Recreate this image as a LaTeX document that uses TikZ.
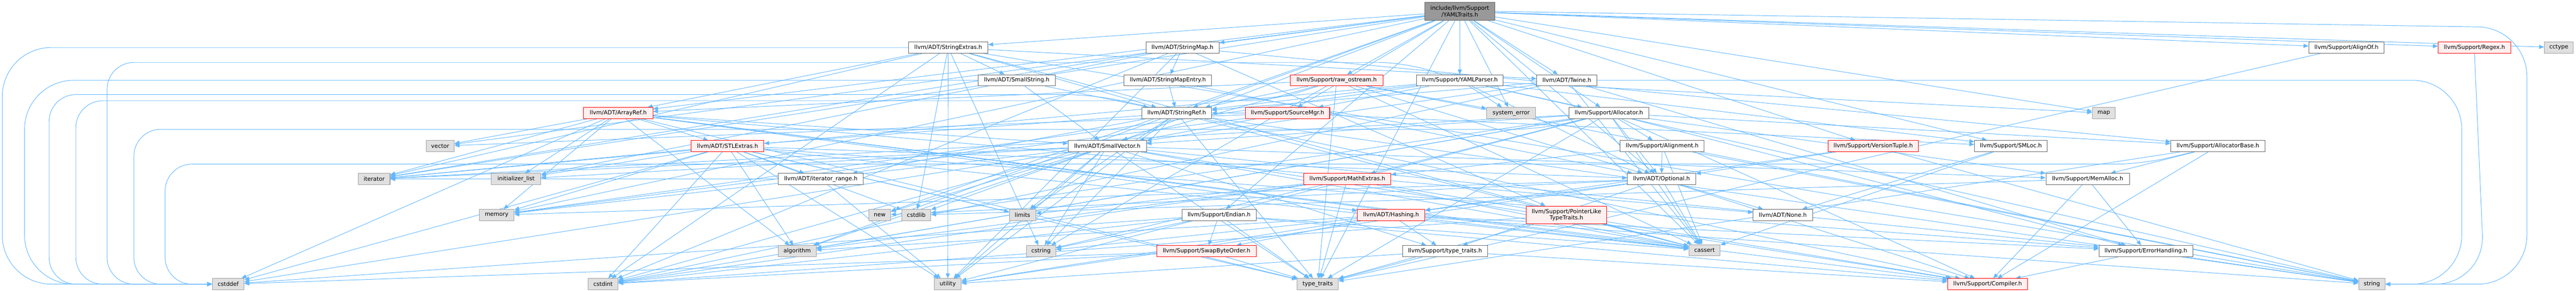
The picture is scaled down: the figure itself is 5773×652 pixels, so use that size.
\documentclass[tikz,border=0pt]{standalone}
\usepackage{fontspec}
\newfontfamily\dvs{DejaVu Sans}
\usetikzlibrary{arrows.meta}
\definecolor{edgeblue}{HTML}{63B8FF}
\definecolor{nodeborder}{HTML}{666666}
\definecolor{sysborder}{HTML}{A0A0A0}
\definecolor{sysfill}{HTML}{E0E0E0}
\definecolor{redfill}{HTML}{FFF0F0}
\definecolor{topfill}{HTML}{999999}
\pgfdeclarelayer{bg}
\pgfsetlayers{bg,main}
\tikzset{
  nbox/.style={draw=nodeborder, fill=white, line width=1.2pt, inner sep=0pt,
    minimum height=25pt, text=black, font=\dvs\fontsize{12.7pt}{15pt}\selectfont},
  sysbox/.style={nbox, draw=sysborder, fill=sysfill},
  redbox/.style={nbox, draw=red, fill=redfill},
  topbox/.style={nbox, draw=nodeborder, fill=topfill, align=center},
  lnk/.style={draw=edgeblue, line width=1.1pt, -{Triangle[length=11pt,width=9pt]}},
  loopa/.style={lnk, rounded corners=110pt},
  loopb/.style={lnk, rounded corners=60pt}
}
\begin{document}
\begin{tikzpicture}[x=1pt,y=-1pt]
\useasboundingbox (0,0) rectangle (5773,652);
% row 0
\node[topbox, minimum width=157pt, minimum height=41pt] (Y) at (3271.5,25.5) {include/llvm/Support\\/YAMLTraits.h};
% row 1
\node[nbox, minimum width=178pt] (sext) at (2125,106.5) {llvm/ADT/StringExtras.h};
\node[nbox, minimum width=164pt] (smap) at (2650,106.5) {llvm/ADT/StringMap.h};
\node[nbox, minimum width=169pt] (alignof) at (5258.5,106.5) {llvm/Support/AlignOf.h};
\node[redbox, minimum width=163pt] (regex) at (5545.5,106.5) {llvm/Support/Regex.h};
\node[sysbox, minimum width=65pt] (cctype) at (5734.5,106.5) {cctype};
% row 2
\node[nbox, minimum width=173pt] (sstr) at (2278.5,180) {llvm/ADT/SmallString.h};
\node[nbox, minimum width=196pt] (smapentry) at (2617,180) {llvm/ADT/StringMapEntry.h};
\node[redbox, minimum width=207pt] (rawos) at (2995.5,180) {llvm/Support/raw\_ostream.h};
\node[nbox, minimum width=195pt] (yparser) at (3271.5,180) {llvm/Support/YAMLParser.h};
\node[nbox, minimum width=135pt] (twine) at (3511.5,180) {llvm/ADT/Twine.h};
% row 3
\node[redbox, minimum width=155pt] (aref) at (1385.5,253.5) {llvm/ADT/ArrayRef.h};
\node[nbox, minimum width=156pt] (sref) at (2637,253.5) {llvm/ADT/StringRef.h};
\node[redbox, minimum width=189pt] (smgr) at (2885.5,253.5) {llvm/Support/SourceMgr.h};
\node[sysbox, minimum width=109pt] (syserr) at (3386.5,253.5) {system\_error};
\node[nbox, minimum width=179pt] (alloc) at (3605.5,253.5) {llvm/Support/Allocator.h};
\node[sysbox, minimum width=51pt] (map) at (4714.5,253.5) {map};
% row 4
\node[sysbox, minimum width=63pt] (vector) at (986.5,327.5) {vector};
\node[redbox, minimum width=163pt] (stlx) at (1630.5,327.5) {llvm/ADT/STLExtras.h};
\node[nbox, minimum width=175pt] (svec) at (2481.5,327.5) {llvm/ADT/SmallVector.h};
\node[nbox, minimum width=188pt] (align) at (3725,327.5) {llvm/Support/Alignment.h};
\node[redbox, minimum width=202pt] (vtuple) at (4198,327.5) {llvm/Support/VersionTuple.h};
\node[nbox, minimum width=163pt] (smloc) at (4506.5,327.5) {llvm/Support/SMLoc.h};
\node[nbox, minimum width=211pt] (allocbase) at (4970.5,327.5) {llvm/Support/AllocatorBase.h};
% row 5
\node[sysbox, minimum width=71pt] (iterator) at (838.5,401.5) {iterator};
\node[sysbox, minimum width=111pt] (initlist) at (1156.5,401.5) {initializer\_list};
\node[nbox, minimum width=191pt] (itrange) at (1839.5,401.5) {llvm/ADT/iterator\_range.h};
\node[redbox, minimum width=195pt] (mathx) at (3019.5,401.5) {llvm/Support/MathExtras.h};
\node[nbox, minimum width=153pt] (optional) at (3723.5,401.5) {llvm/ADT/Optional.h};
\node[nbox, minimum width=187pt] (memalloc) at (4678.5,401.5) {llvm/Support/MemAlloc.h};
% row 6
\node[sysbox, minimum width=78pt] (memory) at (1113,482) {memory};
\node[sysbox, minimum width=49pt] (new) at (1971.5,482) {new};
\node[sysbox, minimum width=65pt] (cstdlib) at (2053.5,482) {cstdlib};
\node[sysbox, minimum width=59pt] (limits) at (2291.5,482) {limits};
\node[nbox, minimum width=166pt] (endian) at (2732,482) {llvm/Support/Endian.h};
\node[redbox, minimum width=151pt] (hashing) at (3117.5,482) {llvm/ADT/Hashing.h};
\node[redbox, minimum width=181pt, minimum height=40pt, align=center] (pltt) at (3510.5,482) {llvm/Support/PointerLike\\TypeTraits.h};
\node[nbox, minimum width=133pt] (none) at (3995.5,482) {llvm/ADT/None.h};
% row 7
\node[sysbox, minimum width=85pt] (algorithm) at (1786.5,563) {algorithm};
\node[sysbox, minimum width=66pt] (cstring) at (2333,563) {cstring};
\node[redbox, minimum width=222pt] (swapbo) at (2704,563) {llvm/Support/SwapByteOrder.h};
\node[nbox, minimum width=191pt] (lltt) at (3238.5,563) {llvm/Support/type\_traits.h};
\node[sysbox, minimum width=70pt] (cassert) at (3820,561) {cassert};
\node[nbox, minimum width=210pt] (errh) at (4809,563) {llvm/Support/ErrorHandling.h};
% row 8
\node[sysbox, minimum width=71pt] (cstddef) at (511.5,637) {cstddef};
\node[sysbox, minimum width=67pt] (cstdint) at (1351.5,637) {cstdint};
\node[sysbox, minimum width=60pt] (utility) at (2124,637) {utility};
\node[sysbox, minimum width=92pt] (typetraits) at (2953,637) {type\_traits};
\node[redbox, minimum width=179pt] (compiler) at (4454.5,637) {llvm/Support/Compiler.h};
\node[sysbox, minimum width=59pt] (string) at (5315.5,637) {string};

\begin{pgfonlayer}{bg}
\fill[white] (0,0) rectangle (5773,652);
\foreach \src/\tgt in {
 Y/sext, Y/smap, Y/aref, Y/svec, Y/sref, Y/smgr, Y/rawos, Y/yparser, Y/twine, Y/syserr,
 Y/alloc, Y/alignof, Y/regex, Y/cctype, Y/endian, Y/smloc, Y/vtuple, Y/map, Y/vector,
 Y/memory, Y/new, Y/typetraits, Y/cassert, Y/optional, Y/iterator,
 sext/aref, sext/sstr, sext/sref, sext/twine, sext/cassert, sext/cstdint, sext/cstdlib,
 sext/cstring, sext/iterator, sext/string, sext/utility,
 sstr/svec, sstr/sref,
 smap/smapentry, smap/allocbase, smap/pltt, smap/initlist, smap/iterator, smap/utility, smap/cstdint,
 smapentry/sref, smapentry/optional,
 sref/stlx, sref/itrange, sref/compiler, sref/algorithm, sref/cassert, sref/cstring,
 sref/limits, sref/string, sref/typetraits, sref/utility,
 aref/hashing, aref/none, aref/svec, aref/stlx, aref/compiler, aref/algorithm, aref/cassert,
 aref/cstddef, aref/initlist, aref/iterator, aref/memory, aref/typetraits, aref/vector,
 stlx/optional, stlx/itrange, stlx/errh, stlx/algorithm, stlx/cassert, stlx/cstddef,
 stlx/cstdint, stlx/cstdlib, stlx/initlist, stlx/iterator, stlx/limits, stlx/memory,
 stlx/typetraits, stlx/utility,
 itrange/iterator, itrange/utility,
 svec/compiler, svec/errh, svec/memalloc, svec/lltt, svec/algorithm, svec/cassert,
 svec/cstddef, svec/cstdlib, svec/cstring, svec/initlist, svec/iterator, svec/limits,
 svec/memory, svec/new, svec/typetraits, svec/utility,
 rawos/aref, rawos/sref, rawos/cassert, rawos/cstdint, rawos/cstring, rawos/string,
 rawos/syserr, rawos/typetraits, rawos/optional,
 smgr/svec, smgr/smloc, smgr/vector, smgr/sref, smgr/memory,
 yparser/sref, yparser/alloc, yparser/smloc, yparser/smgr, yparser/iterator, yparser/map,
 yparser/memory, yparser/string, yparser/syserr, yparser/optional,
 twine/svec, twine/sref, twine/errh, twine/cassert, twine/cstdint,
 alloc/optional, alloc/svec, alloc/align, alloc/allocbase, alloc/compiler, alloc/errh,
 alloc/mathx, alloc/memalloc, alloc/algorithm, alloc/cassert, alloc/cstdint, alloc/cstdlib,
 alloc/iterator, alloc/typetraits, alloc/utility,
 align/mathx, align/optional, align/cassert, align/string,
 vtuple/hashing, vtuple/optional, vtuple/string,
 smloc/none, smloc/cassert,
 allocbase/compiler, allocbase/memalloc, allocbase/typetraits,
 mathx/compiler, mathx/algorithm, mathx/cassert, mathx/cstdint, mathx/cstring,
 mathx/limits, mathx/typetraits,
 optional/none, optional/hashing, optional/compiler, optional/lltt, optional/cassert,
 optional/memory, optional/new, optional/utility,
 memalloc/compiler, memalloc/errh, memalloc/cstdlib,
 endian/compiler, endian/swapbo, endian/cassert, endian/cstddef, endian/cstdint,
 endian/cstring, endian/typetraits,
 hashing/errh, hashing/swapbo, hashing/lltt, hashing/algorithm, hashing/cassert,
 hashing/cstring, hashing/string, hashing/utility,
 pltt/cassert, pltt/typetraits, pltt/cstdint,
 swapbo/cstddef, swapbo/cstdint, swapbo/typetraits,
 lltt/compiler, lltt/typetraits, lltt/utility,
 errh/compiler, errh/string,
 alignof/typetraits}
 {\draw[lnk] (\src) -- (\tgt);}
% loops round the left side into cstddef
\draw[loopa] (sext.west) -- (5,106.5) -- (5,637) -- (cstddef.west);
\draw[loopa] (sstr.west) -- (55,180) -- (55,637) -- (cstddef.west);
\draw[loopb] (sref) -- (2450,212) -- (110,212) -- (110,637) -- (cstddef.west);
\draw[loopb] (rawos) -- (2850,226) -- (170,226) -- (170,637) -- (cstddef.west);
\draw[loopb] (yparser) -- (3150,140) -- (240,140) -- (240,637) -- (cstddef.west);
\draw[loopb] (alloc) -- (3450,290) -- (300,290) -- (300,637) -- (cstddef.west);
\draw[loopb] (allocbase) -- (4800,368) -- (370,368) -- (370,637) -- (cstddef.west);
% loops round the right side into string
\draw[loopa] (Y.east) -- (5663,62) -- (5663,637) -- (string.east);
\draw[loopa] (twine.east) -- (5517,180) -- (5517,637) -- (string.east);
\draw[loopa] (regex.south) -- (5568,637) -- (string.east);
\end{pgfonlayer}
\end{tikzpicture}
\end{document}
